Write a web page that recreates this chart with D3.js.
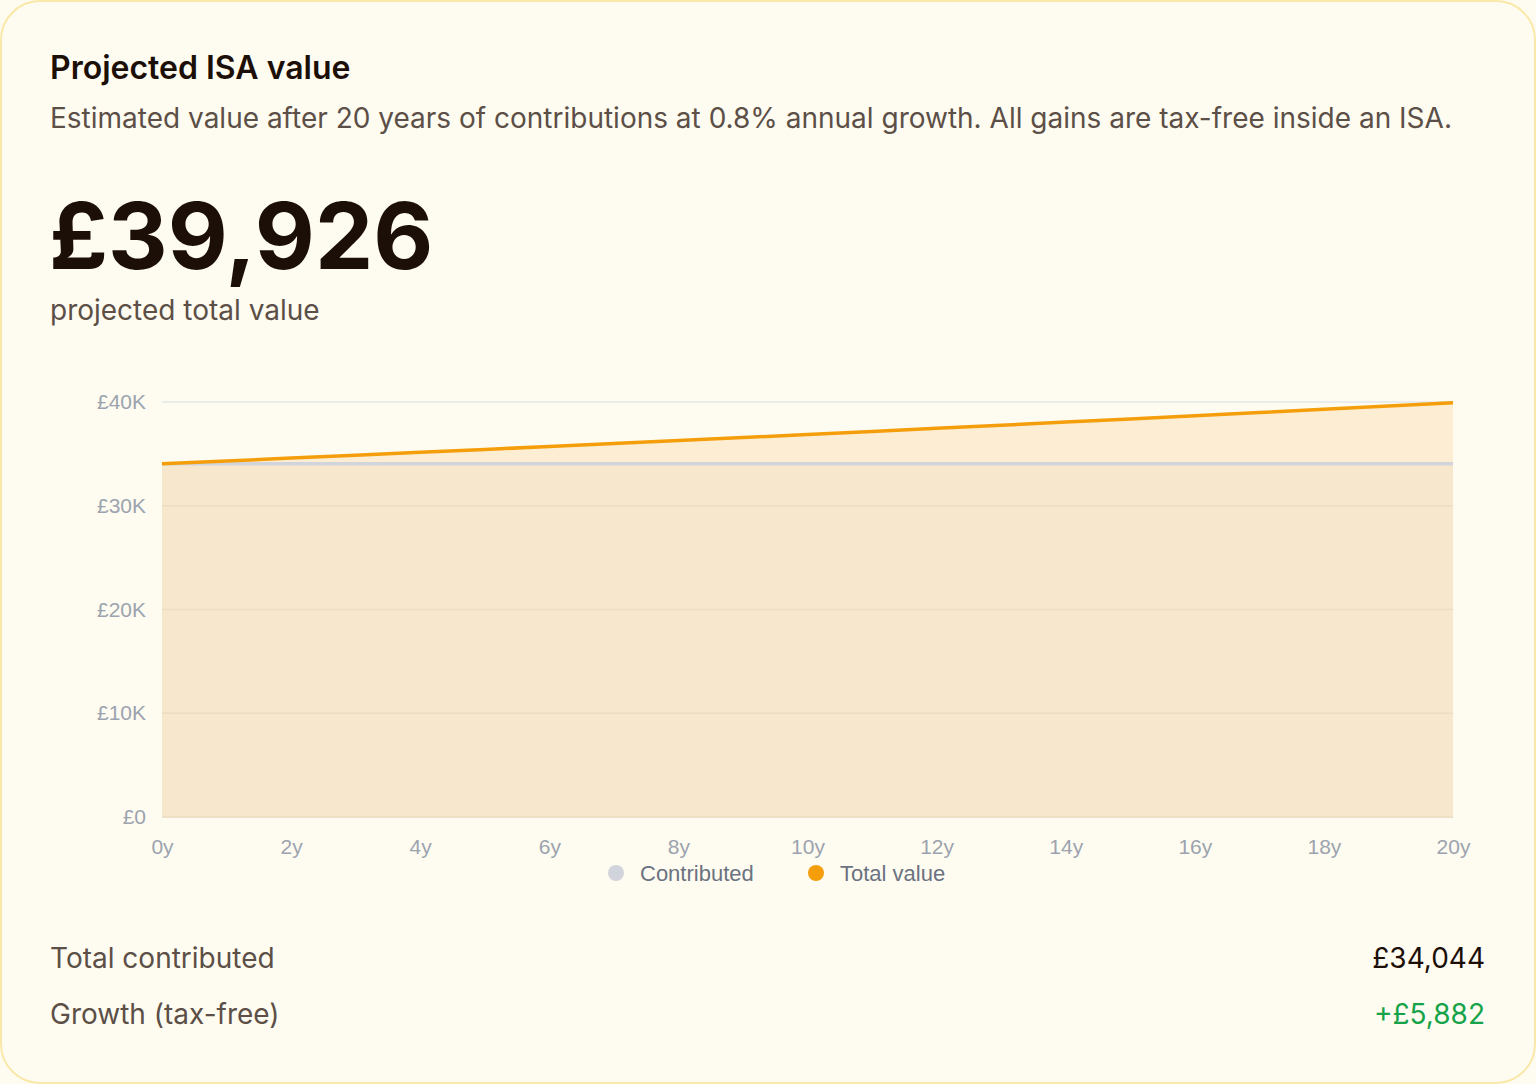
<!DOCTYPE html>
<html>
<head>
<meta charset="utf-8">
<script src="https://cdn.jsdelivr.net/npm/d3@7"></script>
<style>
  html, body { margin: 0; padding: 0; background: #fefcf0; }
  body { width: 1536px; height: 1084px; overflow: hidden; font-family: Inter, "Noto Sans", sans-serif; }
  .card {
    position: absolute; left: 0; top: 0; width: 1532px; height: 1080px;
    border: 2px solid #f9e8a8; border-radius: 40px; background: #fefcf0;
  }
  .t { position: absolute; white-space: nowrap; line-height: 1.2; }
  #title { left: 50px; top: 49px; font-size: 32px; font-weight: 600; color: #1c0f08; }
  #sub { left: 50px; top: 102px; font-size: 28px; color: #5c4f47; }
  #big { left: 49px; top: 180px; font-size: 92.5px; font-weight: 700; color: #1c0f08; }
  #bigsub { left: 50px; top: 294px; font-size: 28px; color: #5c4f47; }
  .row { left: 50px; width: 1435px; font-size: 28px; color: #5c4f47; display: flex; justify-content: space-between; }
  .row .v { color: #1c0f08; }
  .row .g { color: #16a34a; }
  svg { position: absolute; left: 0; top: 0; }
</style>
</head>
<body>
<div class="card"></div>
<div class="t" id="title">Projected ISA value</div>
<div class="t" id="sub">Estimated value after 20 years of contributions at 0.8% annual growth. All gains are tax-free inside an ISA.</div>
<div class="t" id="big">£39,926</div>
<div class="t" id="bigsub">projected total value</div>
<div class="t row" style="top:942px"><span>Total contributed</span><span class="v">£34,044</span></div>
<div class="t row" style="top:998px"><span>Growth (tax-free)</span><span class="g">+£5,882</span></div>
<svg id="chart" width="1536" height="1084"></svg>
<script>
// years 0..20, values
const years = [0,1,2,3,4,5,6,7,8,9,10,11,12,13,14,15,16,17,18,19,20];
const contributed = [34044,34044,34044,34044,34044,34044,34044,34044,34044,34044,34044,
                     34044,34044,34044,34044,34044,34044,34044,34044,34044,34044];
const totalValue = [34044,34316,34591,34868,35147,35428,35711,35997,36285,36575,36868,
                    37163,37460,37760,38062,38366,38673,38983,39294,39609,39926];
const yTicks = [0, 10000, 20000, 30000, 40000];
const xTicks = [0,2,4,6,8,10,12,14,16,18,20];
const legendItems = [["Contributed", "#d1d5db"], ["Total value", "#f59e0b"]];

const data = years.map((yr, i) => ({year: yr, c: contributed[i], t: totalValue[i]}));

const plotLeft = 162, plotRight = 1453, plotTop = 402, plotBottom = 817;
const svg = d3.select("#chart");

const x = d3.scaleLinear().domain([0, 20]).range([plotLeft, plotRight]);
const y = d3.scaleLinear().domain([0, 40000]).range([plotBottom, plotTop]);

const axisFont = "'Liberation Sans', Arial, sans-serif";

// grid
svg.append("g")
  .selectAll("line")
  .data(yTicks)
  .join("line")
    .attr("x1", plotLeft).attr("x2", plotRight)
    .attr("y1", d => y(d)).attr("y2", d => y(d))
    .attr("stroke", "#e5e7eb").attr("stroke-width", 1.5);

// areas
const areaT = d3.area().x(d => x(d.year)).y0(y(0)).y1(d => y(d.t));
const areaC = d3.area().x(d => x(d.year)).y0(y(0)).y1(d => y(d.c));
svg.append("path").datum(data).attr("d", areaT).attr("fill", "#fdedd2");
svg.append("path").datum(data).attr("d", areaC).attr("fill", "#f7e7cc");

// grid lines show faintly through the fill
svg.append("g")
  .selectAll("line")
  .data(yTicks.filter(d => d < 34044))
  .join("line")
    .attr("x1", plotLeft).attr("x2", plotRight)
    .attr("y1", d => y(d)).attr("y2", d => y(d))
    .attr("stroke", "#ecdcc0").attr("stroke-width", 1.5);

const lineC = d3.line().x(d => x(d.year)).y(d => y(d.c));
const lineT = d3.line().x(d => x(d.year)).y(d => y(d.t));
svg.append("path").datum(data).attr("d", lineC)
  .attr("fill", "none").attr("stroke", "#d1d5db").attr("stroke-width", 3.5);
svg.append("path").datum(data).attr("d", lineT)
  .attr("fill", "none").attr("stroke", "#f59e0b").attr("stroke-width", 3.5);

// y axis
svg.append("g")
  .attr("transform", `translate(${plotLeft},0)`)
  .call(d3.axisLeft(y).tickValues(yTicks).tickSize(0).tickPadding(16)
        .tickFormat(d => d === 0 ? "£0" : `£${d / 1000}K`))
  .call(g => g.select(".domain").remove())
  .call(g => g.selectAll("text")
      .attr("fill", "#9ca3af").attr("font-size", 21).attr("font-family", axisFont));

// x axis
svg.append("g")
  .attr("transform", `translate(0,${plotBottom})`)
  .call(d3.axisBottom(x).tickValues(xTicks).tickSize(0).tickPadding(22)
        .tickFormat(d => `${d}y`))
  .call(g => g.select(".domain").remove())
  .call(g => g.selectAll("text")
      .attr("fill", "#9ca3af").attr("font-size", 21).attr("font-family", axisFont));

// legend
const legend = svg.append("g").attr("transform", "translate(616,873)");
legendItems.forEach(([name, col], i) => {
  const item = legend.append("g").attr("transform", `translate(${i * 200},0)`);
  item.append("circle").attr("r", 8).attr("fill", col);
  item.append("text").attr("x", 24).attr("y", 8)
    .attr("fill", "#6b7280").attr("font-size", 22).attr("font-family", axisFont)
    .text(name);
});
</script>
</body>
</html>
